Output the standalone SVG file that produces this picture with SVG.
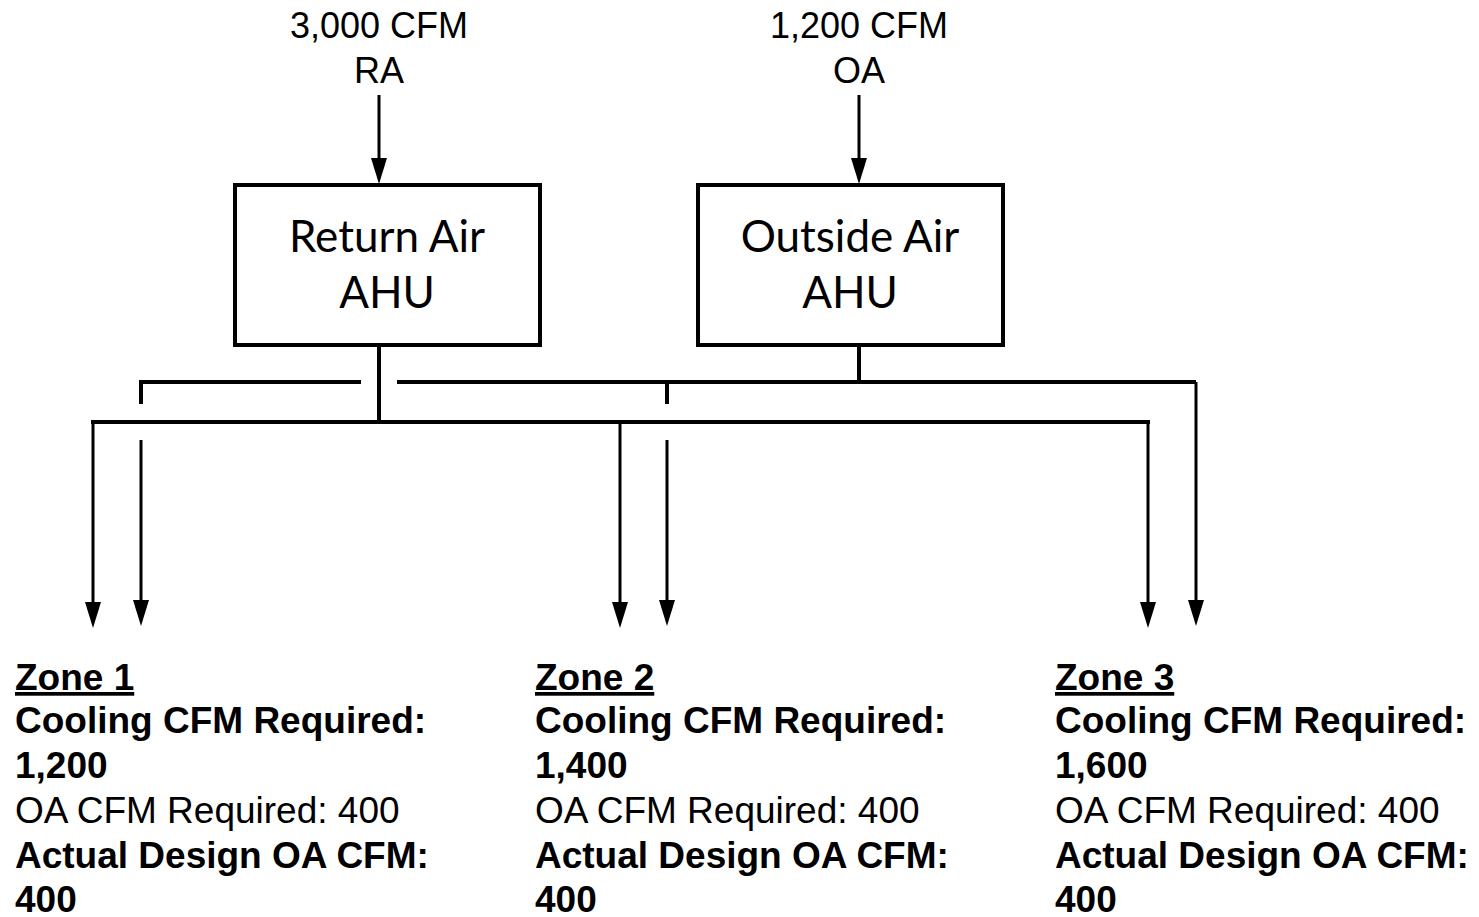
<svg xmlns="http://www.w3.org/2000/svg" width="1479" height="917" viewBox="0 0 1479 917">
<style>
.lbl{font-family:"Liberation Sans",Arial,sans-serif;font-size:36px;fill:#000;text-anchor:middle}
.box{fill:#fff;stroke:#000;stroke-width:4}
.boxt{font-family:Lato,"Open Sans",sans-serif;font-size:44px;fill:#000;text-anchor:middle}
.zt{font-family:"Liberation Sans",Arial,sans-serif;font-size:37px;fill:#000}
.b{font-weight:bold}
.duct{stroke:#000;stroke-width:4;fill:none}
.arr{stroke:#000;stroke-width:3;fill:none;marker-end:url(#ah)}
</style>
<defs>
<marker id="ah" markerUnits="userSpaceOnUse" markerWidth="26" markerHeight="16" viewBox="0 0 26 16" refX="16" refY="8" orient="auto">
<path d="M0,0 L26,8 L0,16 Z" fill="#000"/>
</marker>
</defs>
<rect width="1479" height="917" fill="#fff"/>
<g id="ra-label">
<text class="lbl" x="379" y="38">3,000 CFM</text>
<text class="lbl" x="379" y="83">RA</text>
</g>
<g id="oa-label">
<text class="lbl" x="859" y="38">1,200 CFM</text>
<text class="lbl" x="859" y="83">OA</text>
</g>
<g id="ra-ahu">
<rect class="box" x="235" y="185" width="305" height="160"/>
<text class="boxt" x="387" y="252">Return Air</text>
<text class="boxt" x="387" y="308">AHU</text>
</g>
<g id="oa-ahu">
<rect class="box" x="698" y="185" width="305" height="160"/>
<text class="boxt" x="850" y="252">Outside Air</text>
<text class="boxt" x="850" y="308">AHU</text>
</g>
<g id="connectors">
<path class="arr" d="M379,95 V174"/>
<path class="arr" d="M859,95 V174"/>
<path class="duct" d="M379,347 V422"/>
<path class="duct" d="M91,422 H1150"/>
<path class="duct" d="M859,347 V382"/>
<path class="duct" d="M141,404 V382 H361"/>
<path class="duct" d="M397,382 H1196"/>
<path class="duct" d="M667,382 V404"/>
<path class="arr" d="M93,422 V618"/>
<path class="arr" d="M620,422 V618"/>
<path class="arr" d="M1148,422 V618"/>
<path class="arr" d="M141,440 V616"/>
<path class="arr" d="M667,440 V616"/>
<path class="arr" d="M1196,382 V616"/>
</g>
<g id="zone1">
<text class="zt b" x="15" y="690" text-decoration="underline">Zone 1</text>
<text class="zt b" x="15" y="733">Cooling CFM Required:</text>
<text class="zt b" x="15" y="778">1,200</text>
<text class="zt" x="15" y="823">OA CFM Required: 400</text>
<text class="zt b" x="15" y="868">Actual Design OA CFM:</text>
<text class="zt b" x="15" y="912">400</text>
</g>
<g id="zone2">
<text class="zt b" x="535" y="690" text-decoration="underline">Zone 2</text>
<text class="zt b" x="535" y="733">Cooling CFM Required:</text>
<text class="zt b" x="535" y="778">1,400</text>
<text class="zt" x="535" y="823">OA CFM Required: 400</text>
<text class="zt b" x="535" y="868">Actual Design OA CFM:</text>
<text class="zt b" x="535" y="912">400</text>
</g>
<g id="zone3">
<text class="zt b" x="1055" y="690" text-decoration="underline">Zone 3</text>
<text class="zt b" x="1055" y="733">Cooling CFM Required:</text>
<text class="zt b" x="1055" y="778">1,600</text>
<text class="zt" x="1055" y="823">OA CFM Required: 400</text>
<text class="zt b" x="1055" y="868">Actual Design OA CFM:</text>
<text class="zt b" x="1055" y="912">400</text>
</g>
</svg>
